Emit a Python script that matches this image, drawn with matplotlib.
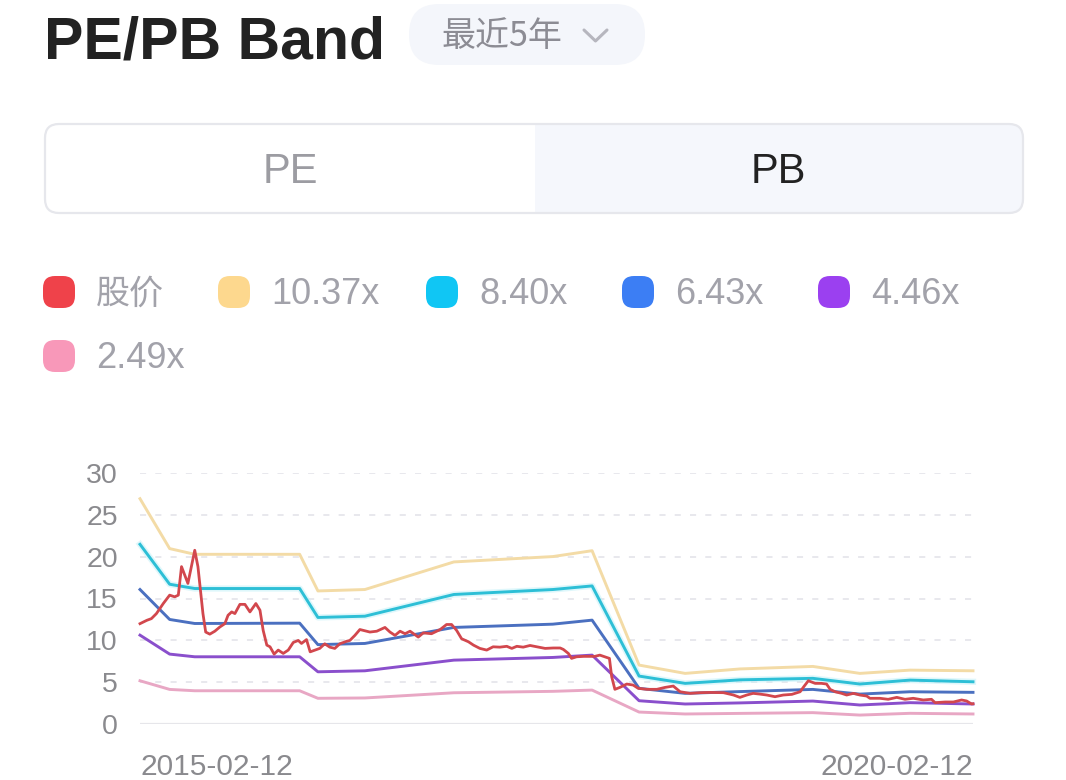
import matplotlib
matplotlib.use('Agg')
import matplotlib.pyplot as plt
import pandas as pd
from matplotlib.patches import FancyBboxPatch, Rectangle
from matplotlib.lines import Line2D

FONT = ['Liberation Sans', 'Noto Sans CJK SC', 'DejaVu Sans']
plt.rcParams['font.family'] = FONT

# ---------------- data ----------------
band_dates = ['2015-02-12', '2015-04-18', '2015-06-12', '2016-01-28', '2016-03-08',
              '2016-06-19', '2016-12-31', '2017-08-05', '2017-10-30', '2018-02-10',
              '2018-05-22', '2018-09-19', '2019-02-26', '2019-06-09', '2019-09-27',
              '2020-02-12']
band_1037 = [26.9, 20.95, 20.27, 20.27, 15.9, 16.07, 19.36, 20.0, 20.7, 7.06,
             6.07, 6.6, 6.9, 6.07, 6.46, 6.38]
band_840 = [21.46, 16.7, 16.19, 16.19, 12.74, 12.89, 15.48, 16.07, 16.5, 5.75,
            4.88, 5.3, 5.48, 4.8, 5.27, 5.07]
band_643 = [16.07, 12.5, 12.02, 12.06, 9.5, 9.64, 11.55, 11.94, 12.42, 4.29,
            3.69, 3.9, 4.16, 3.6, 3.88, 3.81]
band_446 = [10.63, 8.37, 8.05, 8.05, 6.26, 6.38, 7.65, 7.97, 8.25, 2.81,
            2.42, 2.55, 2.77, 2.3, 2.58, 2.42]
band_249 = [5.19, 4.16, 4.0, 4.0, 3.1, 3.14, 3.76, 3.93, 4.08, 1.46,
            1.23, 1.3, 1.39, 1.1, 1.31, 1.23]

price_dates = [
    '2015-02-12', '2015-02-27', '2015-03-09', '2015-03-20', '2015-04-04', '2015-04-18',
    '2015-04-29', '2015-05-07', '2015-05-14', '2015-05-28', '2015-06-12', '2015-06-19',
    '2015-06-30', '2015-07-06', '2015-07-15', '2015-07-26', '2015-08-06', '2015-08-17',
    '2015-08-24', '2015-09-01', '2015-09-08', '2015-09-19', '2015-09-30', '2015-10-11',
    '2015-10-24', '2015-11-02', '2015-11-09', '2015-11-17', '2015-11-24', '2015-12-03',
    '2015-12-12', '2015-12-23', '2016-01-03', '2016-01-14', '2016-01-25', '2016-02-01',
    '2016-02-12', '2016-02-20', '2016-03-02', '2016-03-12', '2016-03-23', '2016-04-03',
    '2016-04-14', '2016-04-25', '2016-05-10', '2016-05-17', '2016-05-28', '2016-06-08',
    '2016-06-30', '2016-07-15', '2016-08-02', '2016-08-13', '2016-08-24', '2016-09-04',
    '2016-09-15', '2016-09-26', '2016-10-14', '2016-10-25', '2016-11-12', '2016-12-01',
    '2016-12-15', '2016-12-26', '2017-01-06', '2017-01-17', '2017-02-01', '2017-02-12',
    '2017-02-26', '2017-03-13', '2017-03-27', '2017-04-11', '2017-04-26', '2017-05-07',
    '2017-05-18', '2017-06-01', '2017-06-16', '2017-07-01', '2017-07-19', '2017-08-06',
    '2017-08-21', '2017-08-28', '2017-09-08', '2017-09-15', '2017-09-26', '2017-10-11',
    '2017-10-25', '2017-11-05', '2017-11-16', '2017-11-27', '2017-12-07', '2017-12-12',
    '2017-12-19', '2017-12-30', '2018-01-14', '2018-01-28', '2018-02-08', '2018-02-27',
    '2018-03-21', '2018-04-08', '2018-04-26', '2018-05-11', '2018-06-02', '2018-06-24',
    '2018-07-15', '2018-08-14', '2018-09-05', '2018-09-19', '2018-10-04', '2018-10-18',
    '2018-11-02', '2018-11-17', '2018-12-05', '2018-12-23', '2019-01-11', '2019-01-29',
    '2019-02-06', '2019-02-16', '2019-03-03', '2019-03-17', '2019-03-28', '2019-04-05',
    '2019-04-16', '2019-04-30', '2019-05-11', '2019-05-26', '2019-06-09', '2019-06-24',
    '2019-07-01', '2019-07-23', '2019-08-10', '2019-08-29', '2019-09-16', '2019-10-04',
    '2019-10-26', '2019-11-13', '2019-11-21', '2019-12-13', '2019-12-31', '2020-01-18',
    '2020-01-29', '2020-02-09', '2020-02-12']
price_values = [
    12.0, 12.4, 12.6, 13.2, 14.4, 15.4,
    15.2, 15.4, 18.8, 16.8, 20.75, 18.8,
    13.2, 11.0, 10.75, 11.1, 11.6, 12.0,
    13.0, 13.4, 13.2, 14.3, 14.3, 13.4,
    14.4, 13.6, 11.2, 9.44, 9.24, 8.37,
    8.85, 8.45, 8.85, 9.76, 10.0, 9.64,
    10.1, 8.64, 8.85, 9.05, 9.6, 9.2,
    9.05, 9.6, 9.9, 10.0, 10.6, 11.3,
    11.0, 11.1, 11.55, 11.0, 10.6, 11.1,
    10.8, 11.1, 10.4, 10.9, 10.8, 11.3,
    11.9, 11.9, 11.2, 10.2, 9.84, 9.44,
    9.05, 8.85, 9.24, 9.2, 9.3, 9.05,
    9.3, 9.2, 9.4, 9.24, 9.05, 9.1,
    9.1, 8.93, 8.45, 7.86, 8.05, 8.1,
    8.1, 8.1, 8.25, 8.05, 7.86, 5.67,
    4.17, 4.4, 4.8, 4.68, 4.29, 4.17,
    4.17, 4.4, 4.56, 3.88, 3.69, 3.77,
    3.8, 3.77, 3.49, 3.21, 3.49, 3.69,
    3.6, 3.49, 3.29, 3.49, 3.57, 3.88,
    4.48, 5.19, 4.88, 4.88, 4.8, 4.16,
    3.88, 3.69, 3.49, 3.69, 3.49, 3.37,
    3.1, 3.1, 2.98, 3.21, 2.98, 3.1,
    2.9, 2.98, 2.58, 2.66, 2.66, 2.9,
    2.78, 2.42, 2.45]

legend_labels = ['股价', '10.37x', '8.40x', '6.43x', '4.46x', '2.49x']
legend_colors = ['#ef424a', '#fdd88e', '#10c6f4', '#3c7ef4', '#9b40f0', '#f898b9']
line_colors = ['#d2474d', '#f3dba6', '#2dbfd6', '#4b70c0', '#8a4fcc', '#e8a7c4']
y_ticks = [0, 5, 10, 15, 20, 25, 30]
x_tick_labels = ['2015-02-12', '2020-02-12']

title_text = 'PE/PB Band'
period_text = '最近5年'
tab_labels = ['PE', 'PB']

# ---------------- figure ----------------
fig = plt.figure(figsize=(10.66, 7.8), dpi=100)
fig.patch.set_facecolor('white')

ov = fig.add_axes([0, 0, 1, 1], zorder=0)
ov.set_xlim(0, 1066)
ov.set_ylim(780, 0)
ov.axis('off')

# title
ov.text(44, 58, title_text, fontsize=42.5, fontweight='bold', color='#222222',
        ha='left', va='baseline', family=FONT)

# period pill
ov.add_patch(FancyBboxPatch((409, 4), 236, 61,
                            boxstyle='round,pad=0,rounding_size=30',
                            fc='#f4f6fb', ec='none'))
ov.text(441, 46, period_text, fontsize=24.5, color='#8c8c94',
        ha='left', va='baseline', family=['Noto Sans CJK SC', 'DejaVu Sans'])
ov.add_line(Line2D([584, 595.5, 607], [30, 41, 30], color='#b6b6be', lw=2.2,
                   solid_capstyle='round', solid_joinstyle='round'))

# tab toggle
ov.add_patch(FancyBboxPatch((45, 124), 978, 89, boxstyle='round,pad=0,rounding_size=14',
                            fc='white', ec='none'))
ov.add_patch(FancyBboxPatch((535, 124), 488, 89, boxstyle='round,pad=0,rounding_size=14',
                            fc='#f5f7fc', ec='none'))
ov.add_patch(Rectangle((535, 124), 30, 89, fc='#f5f7fc', ec='none'))
ov.add_patch(FancyBboxPatch((45, 124), 978, 89, boxstyle='round,pad=0,rounding_size=14',
                            fc='none', ec='#e6e7ec', lw=1.6))
ov.text(290, 183, tab_labels[0], fontsize=30, color='#9c9ca2', ha='center', va='baseline')
ov.text(778, 183, tab_labels[1], fontsize=30, color='#222222', ha='center', va='baseline')

# legend
legend_pos = [(43, 292), (218, 292), (426, 292), (622, 292), (818, 292), (43, 356)]
for (lx, ly), lab, col in zip(legend_pos, legend_labels, legend_colors):
    ov.add_patch(FancyBboxPatch((lx, ly - 16), 32, 32,
                                boxstyle='round,pad=0,rounding_size=12',
                                fc=col, ec='none'))
    ov.text(lx + 53, ly + 12, lab, fontsize=26 if lab != '股价' else 24.5,
            color='#a2a2aa', ha='left', va='baseline',
            family=['Liberation Sans', 'Noto Sans CJK SC'] if lab != '股价'
            else ['Noto Sans CJK SC', 'DejaVu Sans'])

# ---------------- chart ----------------
y0_px, y30_px = 724.3, 472.7
ax = fig.add_axes([140 / 1066, 1 - y0_px / 780, 833 / 1066, (y0_px - y30_px) / 780], zorder=1)
ax.patch.set_alpha(0)

bd = pd.to_datetime(band_dates)
pdt = pd.to_datetime(price_dates)
x_start, x_end = pd.to_datetime(x_tick_labels[0]), pd.to_datetime(x_tick_labels[1])

ax.set_xlim(x_start, x_end)
ax.set_ylim(0, 30)

for yv in y_ticks[1:]:
    ax.axhline(yv, color='#e2e2e8', lw=1.1, ls=(0, (4, 6)), zorder=0)
ax.axhline(0, color='#e6e6ea', lw=1.6, zorder=0)

bands = [band_249, band_446, band_643, band_840, band_1037]
bcols = [line_colors[5], line_colors[4], line_colors[3], line_colors[2], line_colors[1]]
ax.plot(bd, band_840, color='#bff0f8', lw=4.5, alpha=0.5, zorder=1, clip_on=False)
for vals, col in zip(bands, bcols):
    ax.plot(bd, vals, color=col, lw=2.1, solid_joinstyle='round', clip_on=False, zorder=2)
ax.plot(pdt, price_values, color=line_colors[0], lw=2.0, solid_joinstyle='round',
        clip_on=False, zorder=3)

for s in ax.spines.values():
    s.set_visible(False)
ax.set_yticks(y_ticks)
ax.set_yticklabels([str(v) for v in y_ticks])
ax.set_xticks([x_start, x_end])
ax.set_xticklabels(x_tick_labels)
ax.tick_params(axis='y', length=0, pad=16, labelsize=20.5, labelcolor='#8a8a8e')
ax.tick_params(axis='x', length=0, pad=21, labelsize=21.5, labelcolor='#8a8a8e')
xt = ax.get_xticklabels()
xt[0].set_ha('left')
xt[1].set_ha('right')

fig.savefig('out.png', dpi=100, facecolor='white')
